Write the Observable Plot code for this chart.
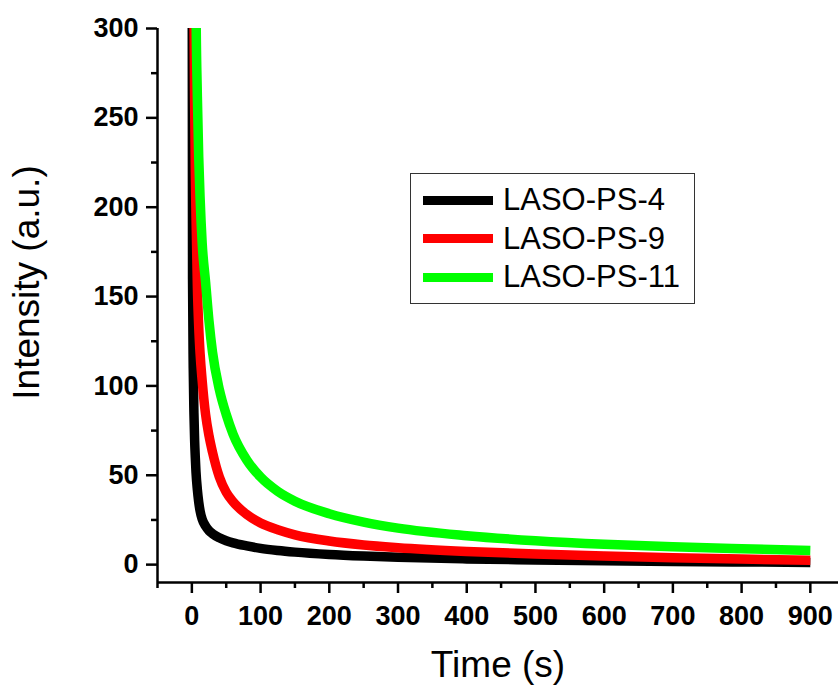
<!DOCTYPE html>
<html>
<head>
<meta charset="utf-8">
<script src="https://cdn.jsdelivr.net/npm/d3@7"></script>
<script src="https://cdn.jsdelivr.net/npm/@observablehq/plot@0.6"></script>
<style>
  html, body { margin: 0; padding: 0; background: #fff; }
  #wrap { position: relative; width: 838px; height: 686px; font-family: "Liberation Sans", Arial, sans-serif; }
  #legend { position: absolute; left: 410px; top: 173px; width: 283px; height: 129px;
            border: 1.5px solid #333; background: #fff; box-sizing: content-box; }
  .item { position: absolute; left: 12px; height: 38px; display: flex; align-items: center; }
  .sw { width: 70px; height: 9px; margin-right: 10px; }
  .lb { font-size: 31px; color: #000; line-height: 38px; white-space: nowrap; }
</style>
</head>
<body>
<div id="wrap"></div>
<script>
// ---- data ----
const times = [0, 1, 2, 3, 4, 5, 6, 8, 10, 12, 15, 20, 25, 30, 40, 50, 60, 80, 100, 125, 150, 200, 250, 300, 400, 500, 600, 700, 800, 900];
const ps4  = [500, 160, 110, 85, 70, 60, 52, 42, 35, 30, 25.5, 21.5, 19, 17.3, 15, 13.4, 12.2, 10.5, 9.1, 7.9, 7, 5.7, 4.8, 4.1, 3.2, 2.6, 2.2, 1.8, 1.5, 1.2];
const ps9  = [700, 500, 390, 310, 260, 222, 196, 156, 133, 118, 103, 84, 72, 63, 49, 40.5, 35.2, 28, 23.3, 19.5, 16.7, 13.2, 11, 9.5, 7.4, 5.9, 4.8, 3.9, 3.1, 2.4];
const ps11 = [1200, 900, 700, 560, 460, 380, 315, 262, 228, 205, 180, 158, 136, 119, 98, 84, 73, 58.5, 49, 41, 35.5, 28.5, 23.8, 20.4, 16.2, 13.4, 11.4, 10, 8.9, 7.9];
const seriesNames = ["LASO-PS-4", "LASO-PS-9", "LASO-PS-11"];
const seriesValues = [ps4, ps9, ps11];
const seriesColors = ["#000000", "#ff0000", "#00ff00"];
const xTicks = [0, 100, 200, 300, 400, 500, 600, 700, 800, 900];
const xMinor = [-50, 50, 150, 250, 350, 450, 550, 650, 750, 850];
const yTicks = [0, 50, 100, 150, 200, 250, 300];
const yMinor = [25, 75, 125, 175, 225, 275];
const xTitle = "Time (s)";
const yTitle = "Intensity (a.u.)";

// ---- build table ----
const rows = [];
seriesNames.forEach((name, i) => {
  times.forEach((t, j) => rows.push({series: name, t, v: seriesValues[i][j]}));
});

const lineMarks = seriesNames.map((name, i) =>
  Plot.line(rows.filter(d => d.series === name), {
    x: "t", y: "v", stroke: seriesColors[i], strokeWidth: 9.5,
    curve: "monotone-x", clip: true, strokeLinecap: "butt", strokeLinejoin: "round"
  })
);

const chart = Plot.plot({
  width: 838,
  height: 686,
  marginLeft: 157,
  marginRight: 0,
  marginTop: 28,
  marginBottom: 104,
  style: {fontFamily: "'Liberation Sans', Arial, sans-serif", background: "#fff", color: "#000"},
  x: {domain: [-50, 941], axis: null},
  y: {domain: [-10, 300], axis: null},
  marks: [
    ...lineMarks,
    Plot.ruleY([-10], {stroke: "#000", strokeWidth: 2.5}),
    Plot.ruleX([-50], {stroke: "#000", strokeWidth: 2.5}),
    Plot.axisX(xTicks, {anchor: "bottom", tickSize: 11, tickPadding: 12, fontSize: 27, fontWeight: "bold",
                        strokeWidth: 2.5, label: null, tickFormat: d => String(d)}),
    Plot.axisX(xMinor, {anchor: "bottom", tickSize: 6, strokeWidth: 2.5, label: null, tickFormat: () => ""}),
    Plot.axisY(yTicks, {anchor: "left", tickSize: 11, tickPadding: 8, fontSize: 27, fontWeight: "bold",
                        strokeWidth: 2.5, label: null, tickFormat: d => String(d)}),
    Plot.axisY(yMinor, {anchor: "left", tickSize: 6, strokeWidth: 2.5, label: null, tickFormat: () => ""}),
    Plot.text([xTitle], {text: d => d, frameAnchor: "bottom", textAnchor: "middle", dy: 83, fontSize: 37, lineAnchor: "middle", fill: "#000"}),
    Plot.text([yTitle], {text: d => d, frameAnchor: "left", textAnchor: "middle", rotate: -90, dx: -130, dy: -23, fontSize: 37, lineAnchor: "middle", fill: "#000"})
  ]
});

const wrap = document.getElementById("wrap");
wrap.appendChild(chart);

// ---- legend ----
const legend = document.createElement("div");
legend.id = "legend";
const centers = [26, 64.5, 103];
seriesNames.forEach((name, i) => {
  const item = document.createElement("div");
  item.className = "item";
  item.style.top = (centers[i] - 19) + "px";
  const sw = document.createElement("div");
  sw.className = "sw";
  sw.style.background = seriesColors[i];
  const lb = document.createElement("span");
  lb.className = "lb";
  lb.textContent = name;
  item.appendChild(sw);
  item.appendChild(lb);
  legend.appendChild(item);
});
wrap.appendChild(legend);
</script>
</body>
</html>
